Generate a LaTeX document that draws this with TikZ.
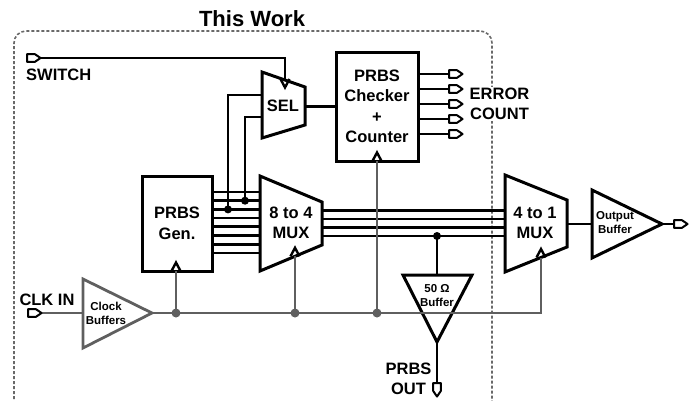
\documentclass[tikz,border=0pt]{standalone}
\usepackage{fontspec}
\setmainfont{Liberation Sans}
\usetikzlibrary{arrows.meta,positioning}
\definecolor{clkgray}{RGB}{95,95,95}
\definecolor{framegray}{RGB}{105,105,105}

\tikzset{
  wire/.style={line width=2.7pt},
  clkwire/.style={line width=2.8pt, clkgray},
  blk/.style={line width=3pt, line join=miter},
  lbl/.style={font=\fontsize{16.5}{20.5}\selectfont\bfseries, align=center, inner sep=0pt},
  smlbl/.style={font=\fontsize{11.5}{14}\selectfont\bfseries, align=center, inner sep=0pt},
  iopin/.pic={\draw[line width=2pt, fill=white, line join=round]
    (0,-3.8) -- (8,-3.8) -- (13.5,0) -- (8,3.8) -- (0,3.8) -- cycle;},
  clkmark/.pic={\draw[line width=2.4pt, line join=miter] (-4.5,0) -- (0,-8.5) -- (4.5,0);},
}

\begin{document}
\begin{tikzpicture}[x=1pt, y=-1pt]
  \useasboundingbox (0,0) rectangle (700,400);

  % ---- frame: this work ----
  \draw[framegray, line width=1.6pt, dash pattern=on 3pt off 2pt, rounded corners=12pt]
    (14,404) -- (14,31) -- (492,31) -- (492,404);
  \node[font=\fontsize{22}{24}\selectfont\bfseries] (title) at (252,19) {This Work};

  % ---- blocks ----
  \node[draw, blk, lbl, minimum width=70pt, minimum height=95pt] (gen) at (177,223.5) {PRBS\\Gen.};
  \node[draw, blk, lbl, minimum width=82pt, minimum height=109pt] (chk) at (377,106.5)
    {PRBS\\Checker\\+\\Counter};
  % 8 to 4 MUX
  \coordinate (ma1) at (260,176); \coordinate (ma2) at (322,202);
  \coordinate (ma3) at (322,245); \coordinate (ma4) at (260,271);
  \draw[blk] (ma1) -- (ma2) -- (ma3) -- (ma4) -- cycle;
  \node[lbl] (muxa) at (291,223) {8 to 4\\MUX};
  % SEL
  \coordinate (s1) at (262,72); \coordinate (s2) at (305,87);
  \coordinate (s3) at (305,125); \coordinate (s4) at (262,138);
  \draw[blk] (s1) -- (s2) -- (s3) -- (s4) -- cycle;
  \node[lbl] (sel) at (283,106) {SEL};
  % 4 to 1 MUX
  \coordinate (mb1) at (505,175); \coordinate (mb2) at (567,200);
  \coordinate (mb3) at (567,247); \coordinate (mb4) at (505,272);
  \draw[blk] (mb1) -- (mb2) -- (mb3) -- (mb4) -- cycle;
  \node[lbl] (muxb) at (535,223) {4 to 1\\MUX};
  % Output buffer
  \draw[blk] (592,190) -- (662,224) -- (592,258) -- cycle;
  \coordinate (obtip) at (662,224);
  \node[smlbl] (obuf) at (615,223) {Output\\Buffer};
  % 50 Ohm buffer
  \draw[blk] (403,275) -- (472,275) -- (437,342) -- cycle;
  \coordinate (fbtop) at (437,275); \coordinate (fbtip) at (437,342);
  \node[smlbl] (fbuf) at (437,296) {50 Ω\\Buffer};
  % Clock buffers
  \draw[clkgray, line width=2.8pt, line join=miter] (83,279) -- (152,313) -- (83,348) -- cycle;
  \coordinate (cbtip) at (152,313);
  \node[smlbl] (cbuf) at (106,313) {Clock\\Buffers};

  % ---- data paths ----
  \foreach \i in {0,...,7} {
    \draw[wire] (212,192+8.7*\i) -- (260,192+8.7*\i);
  }
  \foreach \y in {210.5,219,227.5,236} {
    \draw[wire] (322,\y) -- (505,\y);
  }
  \draw[wire] (228,209.4) -- (228,95) -- (262,95);
  \draw[wire] (245,200.7) -- (245,117) -- (262,117);
  \fill (228,209.4) circle (4pt);
  \fill (245,200.7) circle (4pt);
  \draw[wire] (305,106.5) -- (chk.west |- 0,106.5);
  \foreach \y in {74,89,104,119,134} {
    \draw[wire] (418,\y) -- (449,\y);
    \pic at (449,\y) {iopin};
  }
  \node[lbl, fill=white, inner sep=1pt] (err) at (499.5,104) {ERROR\\COUNT};
  \draw[wire] (567,224) -- (592,224);
  \draw[wire] (obtip) -- (674,224);
  \pic at (674,224) {iopin};
  \draw[wire] (437,236) -- (fbtop);
  \fill (437,236) circle (4pt);
  \draw[wire] (fbtip) -- (437,383);
  \pic[rotate=-90] at (437,383) {iopin};
  \node[lbl] (prbsout) at (408.5,379) {PRBS\\OUT};

  % ---- switch ----
  \pic at (27,58) {iopin};
  \draw[wire] (40,58) -- (285,58) -- (285,79);
  \pic[rotate=180] at (285,79) {clkmark};
  \node[lbl, anchor=west] (switch) at (26,75) {SWITCH};

  % ---- clock network ----
  \draw[clkwire] (41,313) -- (83,313);
  \pic at (28,313) {iopin};
  \node[lbl] (clkin) at (47,300) {CLK IN};
  \draw[clkwire] (cbtip) -- (541,313) -- (541,257.5);
  \draw[clkwire] (176,313) -- (176,271);
  \draw[clkwire] (295,313) -- (295,256.3);
  \draw[clkwire] (377,313) -- (377,161);
  \foreach \x in {176,295,377} {
    \fill[clkgray] (\x,313) circle (4.5pt);
  }
  \pic at (176,271) {clkmark};
  \pic at (295,256.3) {clkmark};
  \pic at (377,161) {clkmark};
  \pic at (541,257.5) {clkmark};
\end{tikzpicture}
\end{document}
